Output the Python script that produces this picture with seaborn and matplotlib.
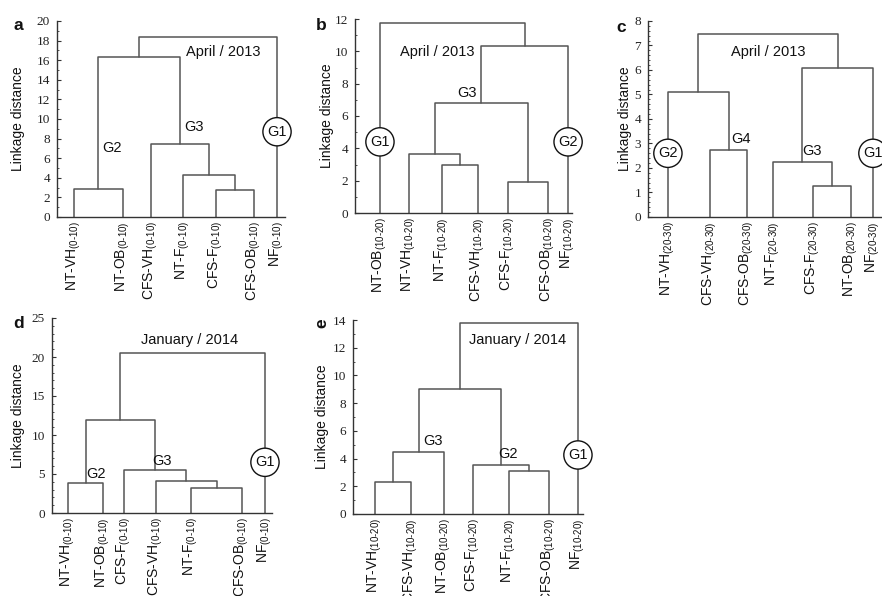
import matplotlib
matplotlib.use("Agg")
import matplotlib.pyplot as plt
from matplotlib.ticker import MultipleLocator
import seaborn as sns
import pandas as pd

# ---------------- data ----------------
# leaf order (left to right) for each dendrogram
a_leaves = ["NT-VH", "NT-OB", "CFS-VH", "NT-F", "CFS-F", "CFS-OB", "NF"]
b_leaves = ["NT-OB", "NT-VH", "NT-F", "CFS-VH", "CFS-F", "CFS-OB", "NF"]
c_leaves = ["NT-VH", "CFS-VH", "CFS-OB", "NT-F", "CFS-F", "NT-OB", "NF"]
d_leaves = ["NT-VH", "NT-OB", "CFS-F", "CFS-VH", "NT-F", "CFS-OB", "NF"]
e_leaves = ["NT-VH", "CFS-VH", "NT-OB", "CFS-F", "NT-F", "CFS-OB", "NF"]

# soil depth of each panel
a_depth = "0\u201010"
b_depth = "10\u201020"
c_depth = "20\u201030"
d_depth = "0\u201010"
e_depth = "10\u201020"

# merges: (left cluster, right cluster, linkage distance); leaves 0..6, new clusters 7..
a_merges = [(0, 1, 2.9), (4, 5, 2.8), (3, 8, 4.25), (2, 9, 7.4), (7, 10, 16.3), (11, 6, 18.4)]
b_merges = [(2, 3, 2.94), (1, 7, 3.66), (4, 5, 1.91), (8, 9, 6.83), (10, 6, 10.31), (0, 11, 11.73)]
c_merges = [(1, 2, 2.75), (0, 7, 5.10), (4, 5, 1.25), (3, 9, 2.26), (10, 6, 6.08), (8, 11, 7.48)]
d_merges = [(0, 1, 3.85), (4, 5, 3.2), (3, 8, 4.06), (2, 9, 5.56), (7, 10, 11.88), (11, 6, 20.5)]
e_merges = [(0, 1, 2.31), (7, 2, 4.51), (4, 5, 3.07), (3, 9, 3.53), (8, 10, 9.05), (11, 6, 13.76)]

a_title = "April / 2013"
b_title = "April / 2013"
c_title = "April / 2013"
d_title = "January / 2014"
e_title = "January / 2014"

# ---------------- layout ----------------
W, H = 882, 596
# axes boxes in pixels: left, right, top, bottom
boxes = {
    "a": (57, 285, 21, 217),
    "b": (355, 572, 19, 213),
    "c": (648, 885, 21, 217),
    "d": (52, 272, 318, 513),
    "e": (353, 583, 320, 514),
}
# leaf positions as axes fraction
leaf_pos = {
    "a": [0.075, 0.289, 0.412, 0.553, 0.697, 0.864, 0.965],
    "b": [0.115, 0.249, 0.401, 0.567, 0.705, 0.889, 0.982],
    "c": [0.084, 0.262, 0.418, 0.527, 0.696, 0.857, 0.949],
    "d": [0.073, 0.232, 0.327, 0.473, 0.632, 0.864, 0.968],
    "e": [0.096, 0.252, 0.396, 0.522, 0.678, 0.852, 0.978],
}
ylims = {"a": (20, 2, 1), "b": (12, 2, 1), "c": (8, 1, 0.2), "d": (25, 5, 1), "e": (14, 2, 1)}
ylabel_x = {"a": -0.140, "b": -0.097, "c": -0.068, "d": -0.123, "e": -0.104}
# annotation texts: (text, x frac, y data, circled)
notes = {
    "a": [(a_title, 0.728, 16.8, False), ("G3", 0.601, 9.2, False), ("G2", 0.241, 7.0, False),
          ("G1", 0.965, 8.7, True)],
    "b": [(b_title, 0.378, 9.96, False), ("G3", 0.516, 7.42, False),
          ("G1", 0.115, 4.4, True), ("G2", 0.982, 4.4, True)],
    "c": [(c_title, 0.506, 6.73, False), ("G4", 0.392, 3.18, False), ("G3", 0.692, 2.69, False),
          ("G2", 0.084, 2.6, True), ("G1", 0.949, 2.6, True)],
    "d": [(d_title, 0.627, 22.2, False), ("G3", 0.50, 6.7, False), ("G2", 0.20, 5.0, False),
          ("G1", 0.968, 6.5, True)],
    "e": [(e_title, 0.717, 12.56, False), ("G3", 0.348, 5.27, False), ("G2", 0.674, 4.33, False),
          ("G1", 0.978, 4.26, True)],
}
letters = {"a": (18, 26, 0), "b": (321, 26, 0), "c": (621, 28, 0), "d": (19, 324, 0), "e": (322, 323, 90)}

panels = {
    "a": (a_leaves, a_merges, a_depth),
    "b": (b_leaves, b_merges, b_depth),
    "c": (c_leaves, c_merges, c_depth),
    "d": (d_leaves, d_merges, d_depth),
    "e": (e_leaves, e_merges, e_depth),
}

sns.set_theme(style="white")
plt.rcParams["font.family"] = ["Liberation Sans", "DejaVu Sans"]
plt.rcParams["mathtext.default"] = "regular"

LINE = "#555555"
SPINE = "#333333"


def link_frame(merges, leaf_x):
    pos = {i: (x, 0.0) for i, x in enumerate(leaf_x)}
    n = len(leaf_x)
    rows = []
    for k, (l, r, h) in enumerate(merges):
        xl, yl = pos[l]
        xr, yr = pos[r]
        for x, y in [(xl, yl), (xl, h), (xr, h), (xr, yr)]:
            rows.append({"link": k, "x": x, "y": y})
        pos[n + k] = ((xl + xr) / 2.0, h)
    return pd.DataFrame(rows)


fig = plt.figure(figsize=(W / 100, H / 100), dpi=100)

for key, (leaves, merges, depth) in panels.items():
    l, r, t, b = boxes[key]
    ax = fig.add_axes([l / W, 1 - b / H, (r - l) / W, (b - t) / H])
    ax.set_facecolor("none")
    df = link_frame(merges, leaf_pos[key])
    sns.lineplot(data=df, x="x", y="y", units="link", estimator=None, sort=False,
                 color=LINE, lw=1.1, ax=ax, legend=False)
    ymax, major, minor = ylims[key]
    ax.set_xlim(0, 1)
    ax.set_ylim(0, ymax)
    ax.yaxis.set_major_locator(MultipleLocator(major))
    ax.yaxis.set_minor_locator(MultipleLocator(minor))
    for s in ["top", "right"]:
        ax.spines[s].set_visible(False)
    for s in ["left", "bottom"]:
        ax.spines[s].set_color(SPINE)
        ax.spines[s].set_linewidth(1.0)
    ax.tick_params(axis="y", which="major", direction="in", length=3, width=0.8,
                   color=SPINE, pad=5, left=True, labelsize=9.5)
    ax.tick_params(axis="y", which="minor", direction="in", length=1.6, width=0.6,
                   color=SPINE, left=True)
    for lab in ax.get_yticklabels():
        lab.set_family(["Liberation Serif", "DejaVu Serif"])
        lab.set_color("#222222")
    ax.set_xticks(leaf_pos[key])
    ax.set_xticklabels([f"{n}$_{{({depth})}}$" for n in leaves], rotation=90,
                       fontsize=10, color="#111111")
    ax.tick_params(axis="x", length=0, pad=3)
    ax.set_xlabel("")
    ax.set_ylabel("Linkage distance", fontsize=10, color="#111111")
    ax.yaxis.set_label_coords(ylabel_x[key], 0.5)
    for txt, x, y, circ in notes[key]:
        if circ:
            ax.text(x, y, txt, ha="center", va="center", fontsize=10.5, color="#111111",
                    bbox=dict(boxstyle="circle,pad=0.3", fc="white", ec="#111111", lw=1.0),
                    zorder=5)
        else:
            ax.text(x, y, txt, ha="center", va="center", fontsize=10.5, color="#111111",
                    zorder=5)
    lx, ly, rot = letters[key]
    fig.text(lx / W, 1 - ly / H, key, ha="center", va="center", fontsize=12.5,
             fontweight="bold", rotation=rot, color="#111111")

fig.savefig("out.png", dpi=100)
